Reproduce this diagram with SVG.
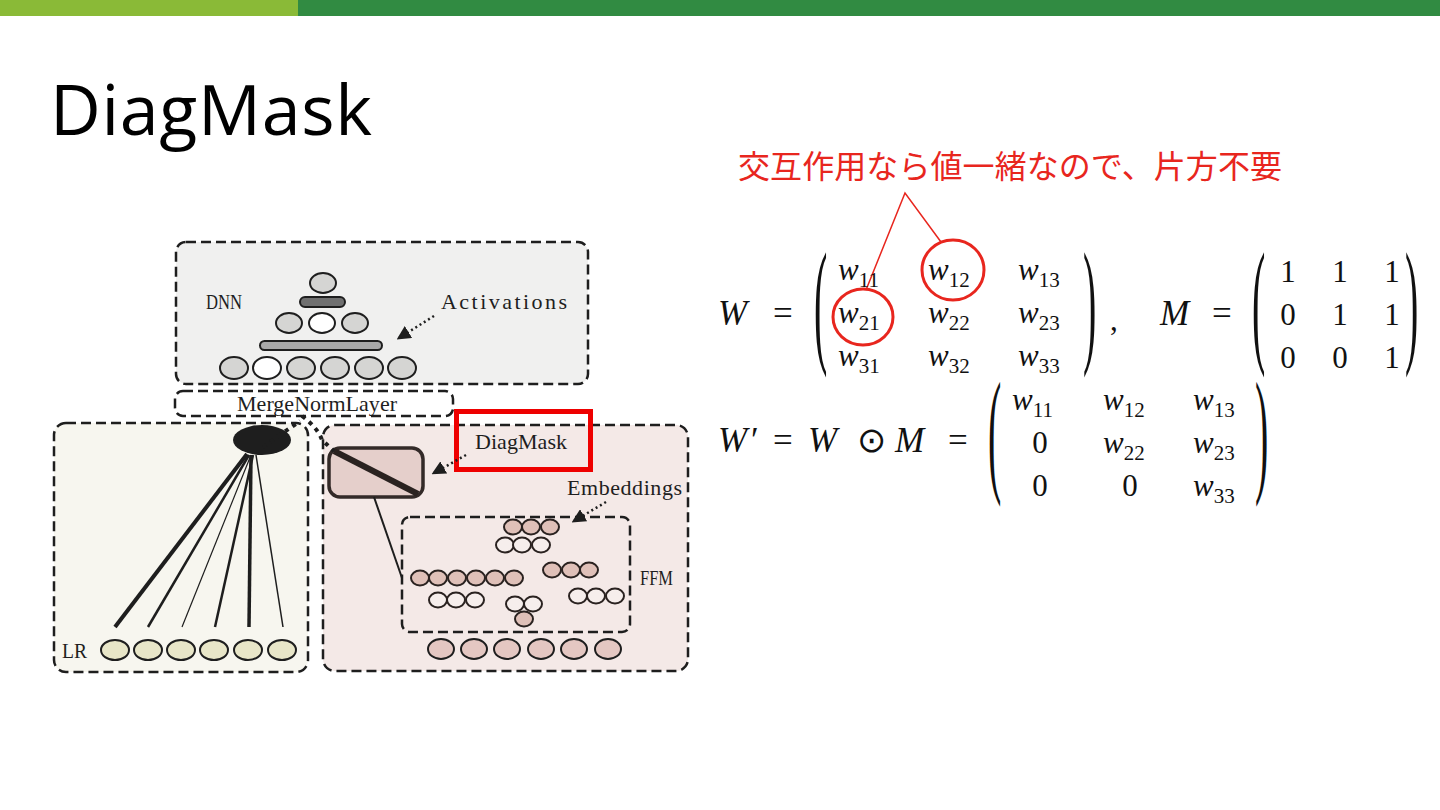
<svg xmlns="http://www.w3.org/2000/svg" width="1440" height="810" viewBox="0 0 1440 810">
<defs>
<style>
.box{stroke:#1e1e1e;stroke-width:2.5;stroke-dasharray:10 5}
.lbl{font-family:"Liberation Serif",serif;font-size:22px;fill:#1e1e1e}
.nd{stroke:#1e1e1e;stroke-width:2}
.pk{fill:#dfc0b8;stroke:#2a2220;stroke-width:2}
.wh{fill:#f6eeec;stroke:#2a2220;stroke-width:2}
.dot{stroke:#1e1e1e;stroke-width:2.5;stroke-dasharray:2 3;fill:none}
.big{stroke:#1e1e1e;stroke-width:4;stroke-dasharray:4 5;fill:none}
.m{font-family:"Liberation Serif",serif;font-size:31px;fill:#111}
.c{font-size:35px}
.i{font-style:italic}
.s{font-size:21px}
.par{font-family:"Liberation Serif",serif;font-size:40px;fill:#111}
</style>
<marker id="ah2" viewBox="0 0 10 10" refX="8" refY="5" markerWidth="14" markerHeight="14" orient="auto" markerUnits="userSpaceOnUse">
<path d="M0,0 L10,5 L0,10 z" fill="#1e1e1e"/>
</marker>
</defs>
<rect width="1440" height="810" fill="#ffffff"/>
<rect x="0" y="0" width="298" height="16" fill="#8aba37"/>
<rect x="298" y="0" width="1142" height="16" fill="#318b42"/>
<text x="50" y="135" font-family="'Open Sans',sans-serif" font-size="70" fill="#000" textLength="322">DiagMask</text>

<g id="dnn">
<rect class="box" x="176" y="242" width="412" height="142" rx="10" fill="#f0f0ef"/>
<text class="lbl" x="206" y="309" textLength="36" lengthAdjust="spacingAndGlyphs">DNN</text>
<text class="lbl" x="441" y="309" textLength="126">Activations</text>
<ellipse class="nd" cx="323" cy="283" rx="13" ry="10" fill="#d5d5d3"/>
<rect class="nd" x="300" y="297" width="45" height="10" rx="5" fill="#707070"/>
<ellipse class="nd" cx="289" cy="323" rx="13" ry="10" fill="#d5d5d3"/>
<ellipse class="nd" cx="322" cy="323" rx="13" ry="10" fill="#ffffff"/>
<ellipse class="nd" cx="355" cy="323" rx="13" ry="10" fill="#d5d5d3"/>
<rect class="nd" x="260" y="341" width="122" height="9" rx="4.5" fill="#a8a8a8"/>
<ellipse class="nd" cx="234" cy="368" rx="14" ry="11" fill="#d5d5d3"/>
<ellipse class="nd" cx="267" cy="368" rx="14" ry="11" fill="#ffffff"/>
<ellipse class="nd" cx="301" cy="368" rx="14" ry="11" fill="#d5d5d3"/>
<ellipse class="nd" cx="335" cy="368" rx="14" ry="11" fill="#d5d5d3"/>
<ellipse class="nd" cx="369" cy="368" rx="14" ry="11" fill="#d5d5d3"/>
<ellipse class="nd" cx="402" cy="368" rx="14" ry="11" fill="#d5d5d3"/>
</g>

<g id="merge">
<rect class="box" x="175" y="391" width="278" height="25" rx="8" fill="#ffffff"/>
<text class="lbl" x="237" y="411" textLength="160">MergeNormLayer</text>
</g>

<g id="lr">
<rect class="box" x="54" y="423" width="254" height="249" rx="12" fill="#f7f6ef"/>
<text class="lbl" x="62" y="658" textLength="25" lengthAdjust="spacingAndGlyphs">LR</text>
<ellipse cx="262" cy="440" rx="29" ry="15" fill="#1e1e1e"/>
<g fill="#e8e6c8" class="nd">
<ellipse cx="115" cy="650" rx="14" ry="10"/>
<ellipse cx="148" cy="650" rx="14" ry="10"/>
<ellipse cx="181" cy="650" rx="14" ry="10"/>
<ellipse cx="214" cy="650" rx="14" ry="10"/>
<ellipse cx="248" cy="650" rx="14" ry="10"/>
<ellipse cx="282" cy="650" rx="14" ry="10"/>
</g>
</g>

<g id="ffm">
<rect class="box" x="323" y="425" width="365" height="246" rx="12" fill="#f4e9e7"/>
<rect class="box" x="402" y="517" width="228" height="115" rx="8" fill="none" stroke-width="2"/>
<text class="lbl" x="640" y="585" textLength="33" lengthAdjust="spacingAndGlyphs">FFM</text>
<text class="lbl" x="567" y="495" textLength="115">Embeddings</text>
<g>
<ellipse class="pk" cx="513" cy="527" rx="9" ry="7.5"/>
<ellipse class="pk" cx="531" cy="527" rx="9" ry="7.5"/>
<ellipse class="pk" cx="550" cy="527" rx="9" ry="7.5"/>
<ellipse class="wh" cx="505" cy="545" rx="9" ry="7.5"/>
<ellipse class="wh" cx="522" cy="545" rx="9" ry="7.5"/>
<ellipse class="wh" cx="541" cy="545" rx="9" ry="7.5"/>
<ellipse class="pk" cx="420" cy="578" rx="9" ry="7.5"/>
<ellipse class="pk" cx="438" cy="578" rx="9" ry="7.5"/>
<ellipse class="pk" cx="457" cy="578" rx="9" ry="7.5"/>
<ellipse class="pk" cx="476" cy="578" rx="9" ry="7.5"/>
<ellipse class="pk" cx="495" cy="578" rx="9" ry="7.5"/>
<ellipse class="pk" cx="514" cy="578" rx="9" ry="7.5"/>
<ellipse class="pk" cx="552" cy="570" rx="9" ry="7.5"/>
<ellipse class="pk" cx="571" cy="570" rx="9" ry="7.5"/>
<ellipse class="pk" cx="589" cy="570" rx="9" ry="7.5"/>
<ellipse class="wh" cx="438" cy="600" rx="9" ry="7.5"/>
<ellipse class="wh" cx="456" cy="600" rx="9" ry="7.5"/>
<ellipse class="wh" cx="475" cy="600" rx="9" ry="7.5"/>
<ellipse class="wh" cx="578" cy="596" rx="9" ry="7.5"/>
<ellipse class="wh" cx="596" cy="596" rx="9" ry="7.5"/>
<ellipse class="wh" cx="615" cy="596" rx="9" ry="7.5"/>
<ellipse class="wh" cx="515" cy="604" rx="9" ry="7.5"/>
<ellipse class="wh" cx="533" cy="604" rx="9" ry="7.5"/>
<ellipse class="pk" cx="524" cy="619" rx="9" ry="7.5" fill="#efd9d4"/>
</g>
<g fill="#e4c7c2" class="nd">
<ellipse cx="441" cy="649" rx="13" ry="10"/>
<ellipse cx="474" cy="649" rx="13" ry="10"/>
<ellipse cx="507" cy="649" rx="13" ry="10"/>
<ellipse cx="541" cy="649" rx="13" ry="10"/>
<ellipse cx="574" cy="649" rx="13" ry="10"/>
<ellipse cx="608" cy="649" rx="13" ry="10"/>
</g>
</g>

<g id="mask">
<rect x="329" y="448" width="94" height="49" rx="11" fill="#e5cfcb" stroke="#332a28" stroke-width="3.5"/>
<line x1="334" y1="451" x2="418" y2="494" stroke="#2a2220" stroke-width="6"/>
</g>

<g id="diagmask-label">
<rect x="456.5" y="411.5" width="134" height="58" fill="none" stroke="#ee0000" stroke-width="5"/>
<text class="lbl" x="475" y="449" textLength="92">DiagMask</text>
</g>

<g id="connectors">
<line x1="247" y1="454" x2="115" y2="627" stroke="#1e1e1e" stroke-width="4"/>
<line x1="249" y1="455" x2="148" y2="627" stroke="#1e1e1e" stroke-width="2.5"/>
<line x1="251" y1="455" x2="182" y2="627" stroke="#1e1e1e" stroke-width="1.2"/>
<line x1="253" y1="455" x2="215" y2="627" stroke="#1e1e1e" stroke-width="2.5"/>
<line x1="251" y1="455" x2="249" y2="627" stroke="#1e1e1e" stroke-width="3.5"/>
<line x1="256" y1="455" x2="283" y2="627" stroke="#1e1e1e" stroke-width="1.5"/>
<path class="big" d="M263,447 L300,421"/>
<path class="big" d="M302,416 Q318,428 322,440 L334,451"/>
<line x1="374" y1="497" x2="402" y2="578" stroke="#1e1e1e" stroke-width="2"/>
<line class="dot" x1="434" y1="316" x2="399" y2="338" marker-end="url(#ah2)"/>
<line class="dot" x1="466" y1="455" x2="434" y2="473" marker-end="url(#ah2)"/>
<line class="dot" x1="606" y1="502" x2="574" y2="521" marker-end="url(#ah2)"/>
</g>

<g id="annotation">
<text x="738" y="178" font-family="'Noto Sans CJK JP',sans-serif" font-size="32" fill="#e8261e" textLength="544">交互作用なら値一緒なので、片方不要</text>
<polyline points="866,290 905,193 941,242" fill="none" stroke="#e8261e" stroke-width="1.5"/>
<ellipse cx="953" cy="270" rx="31" ry="30" fill="none" stroke="#e8261e" stroke-width="3"/>
<ellipse cx="863" cy="317" rx="30" ry="28" fill="none" stroke="#e8261e" stroke-width="3"/>
</g>

<g id="math">
<text class="m c i" x="718" y="325">W</text>
<text class="m c" x="773" y="325">=</text>
<text class="par" transform="translate(814,348) scale(1,3.45)">(</text>
<text class="m i" x="838" y="280">w<tspan class="s" font-style="normal" dy="7">11</tspan></text>
<text class="m i" x="928" y="280">w<tspan class="s" font-style="normal" dy="7">12</tspan></text>
<text class="m i" x="1018" y="280">w<tspan class="s" font-style="normal" dy="7">13</tspan></text>
<text class="m i" x="838" y="323">w<tspan class="s" font-style="normal" dy="7">21</tspan></text>
<text class="m i" x="928" y="323">w<tspan class="s" font-style="normal" dy="7">22</tspan></text>
<text class="m i" x="1018" y="323">w<tspan class="s" font-style="normal" dy="7">23</tspan></text>
<text class="m i" x="838" y="366">w<tspan class="s" font-style="normal" dy="7">31</tspan></text>
<text class="m i" x="928" y="366">w<tspan class="s" font-style="normal" dy="7">32</tspan></text>
<text class="m i" x="1018" y="366">w<tspan class="s" font-style="normal" dy="7">33</tspan></text>
<text class="par" transform="translate(1083,348) scale(1,3.45)">)</text>
<text class="m" x="1110" y="330">,</text>
<text class="m c i" x="1160" y="325">M</text>
<text class="m c" x="1212" y="325">=</text>
<text class="par" transform="translate(1252,348) scale(1,3.45)">(</text>
<text class="m" x="1288" y="282" text-anchor="middle">1</text>
<text class="m" x="1340" y="282" text-anchor="middle">1</text>
<text class="m" x="1392" y="282" text-anchor="middle">1</text>
<text class="m" x="1288" y="325" text-anchor="middle">0</text>
<text class="m" x="1340" y="325" text-anchor="middle">1</text>
<text class="m" x="1392" y="325" text-anchor="middle">1</text>
<text class="m" x="1288" y="368" text-anchor="middle">0</text>
<text class="m" x="1340" y="368" text-anchor="middle">0</text>
<text class="m" x="1392" y="368" text-anchor="middle">1</text>
<text class="par" transform="translate(1405,348) scale(1,3.45)">)</text>

<text class="m c i" x="718" y="452">W</text>
<text class="m c" x="751" y="452">′</text>
<text class="m c" x="773" y="452">=</text>
<text class="m c i" x="808" y="452">W</text>
<text class="m c" x="857" y="452">⊙</text>
<text class="m c i" x="895" y="452">M</text>
<text class="m c" x="948" y="452">=</text>
<text class="par" transform="translate(988,411) scale(1,-3.45)">(</text>
<text class="m i" x="1012" y="410">w<tspan class="s" font-style="normal" dy="7">11</tspan></text>
<text class="m i" x="1103" y="410">w<tspan class="s" font-style="normal" dy="7">12</tspan></text>
<text class="m i" x="1193" y="410">w<tspan class="s" font-style="normal" dy="7">13</tspan></text>
<text class="m" x="1040" y="453" text-anchor="middle">0</text>
<text class="m i" x="1103" y="453">w<tspan class="s" font-style="normal" dy="7">22</tspan></text>
<text class="m i" x="1193" y="453">w<tspan class="s" font-style="normal" dy="7">23</tspan></text>
<text class="m" x="1040" y="496" text-anchor="middle">0</text>
<text class="m" x="1130" y="496" text-anchor="middle">0</text>
<text class="m i" x="1193" y="496">w<tspan class="s" font-style="normal" dy="7">33</tspan></text>
<text class="par" transform="translate(1255,411) scale(1,-3.45)">)</text>
</g>
</svg>
